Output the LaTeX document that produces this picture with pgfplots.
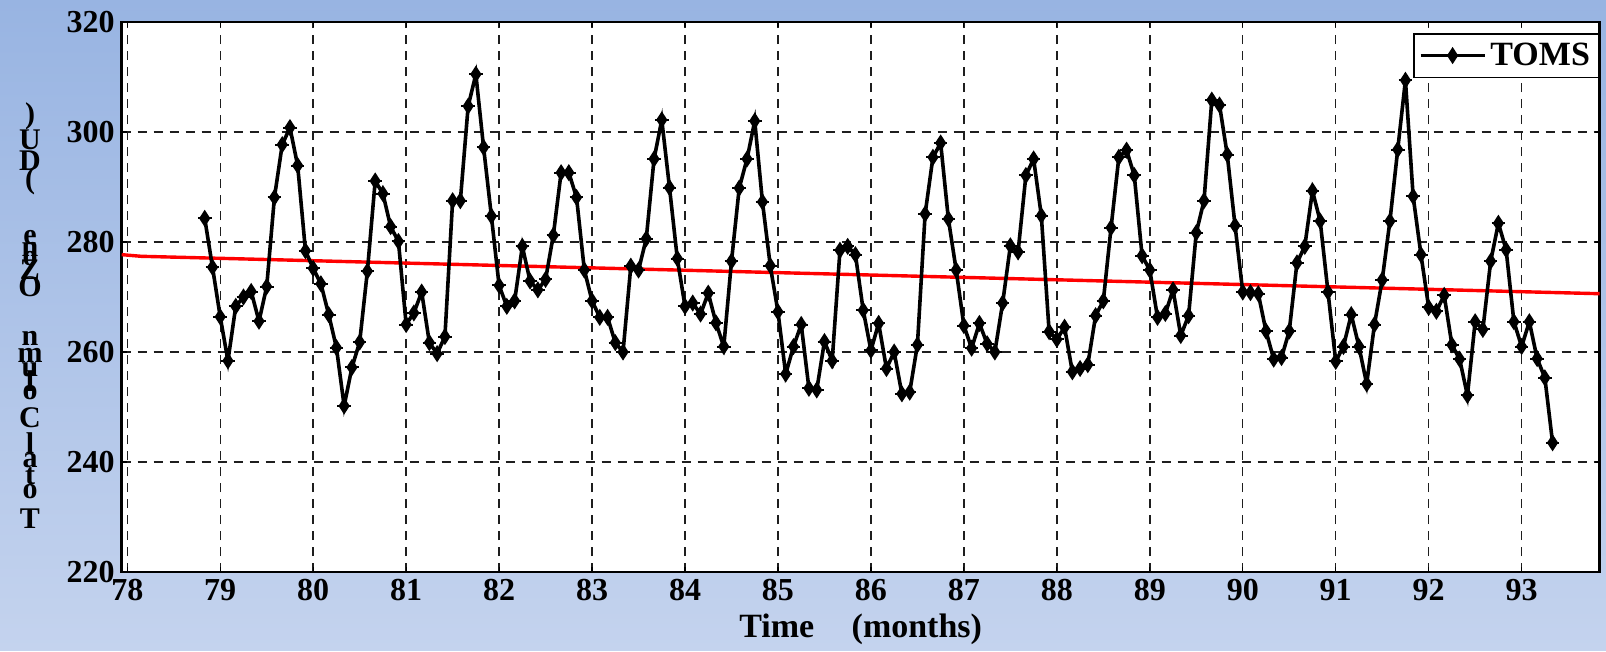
\documentclass[border=0pt]{standalone}
\usepackage{pgfplots}
\pgfplotsset{compat=1.18}
\usepackage{pgfplotstable}
\usepackage{fontspec}
\setmainfont{Liberation Serif}

\definecolor{bgtop}{RGB}{152,180,226}
\definecolor{bgbot}{RGB}{196,211,238}
\definecolor{gridc}{RGB}{30,30,30}

% filled diamond with a horizontal bar, like the marker in the original
\pgfdeclareplotmark{toms}{%
  \pgfpathmoveto{\pgfqpoint{0pt}{\pgfplotmarksize}}%
  \pgfpathlineto{\pgfqpoint{0.65\pgfplotmarksize}{0pt}}%
  \pgfpathlineto{\pgfqpoint{0pt}{-\pgfplotmarksize}}%
  \pgfpathlineto{\pgfqpoint{-0.65\pgfplotmarksize}{0pt}}%
  \pgfpathclose
  \pgfusepathqfillstroke
  \pgfpathmoveto{\pgfqpoint{-\pgfplotmarksize}{0pt}}%
  \pgfpathlineto{\pgfqpoint{\pgfplotmarksize}{0pt}}%
  \pgfusepathqstroke
}

% monthly total column ozone, Nov 1978 - May 1993
\pgfplotstableread{
x y
78.833 284.3
78.917 275.4
79.000 266.4
79.083 258.4
79.167 268.3
79.250 270.0
79.333 271.0
79.417 265.6
79.500 271.9
79.583 288.1
79.667 297.7
79.750 300.8
79.833 293.9
79.917 278.4
80.000 275.2
80.083 272.4
80.167 266.8
80.250 260.8
80.333 250.2
80.417 257.2
80.500 261.8
80.583 274.7
80.667 291.1
80.750 288.8
80.833 282.8
80.917 280.1
81.000 265.0
81.083 267.1
81.167 270.9
81.250 261.7
81.333 259.7
81.417 262.8
81.500 287.5
81.583 287.5
81.667 304.7
81.750 310.5
81.833 297.2
81.917 284.7
82.000 272.1
82.083 268.3
82.167 269.3
82.250 279.2
82.333 272.9
82.417 271.3
82.500 273.2
82.583 281.2
82.667 292.6
82.750 292.6
82.833 288.1
82.917 274.9
83.000 269.3
83.083 266.3
83.167 266.3
83.250 261.7
83.333 260.0
83.417 275.6
83.500 274.9
83.583 280.6
83.667 295.1
83.750 302.2
83.833 289.9
83.917 277.0
84.000 268.3
84.083 268.9
84.167 266.9
84.250 270.7
84.333 265.3
84.417 261.0
84.500 276.5
84.583 289.8
84.667 295.1
84.750 302.0
84.833 287.3
84.917 275.7
85.000 267.3
85.083 256.0
85.167 261.0
85.250 265.0
85.333 253.4
85.417 253.1
85.500 261.9
85.583 258.4
85.667 278.5
85.750 279.2
85.833 277.7
85.917 267.6
86.000 260.3
86.083 265.2
86.167 257.0
86.250 260.0
86.333 252.4
86.417 252.7
86.500 261.3
86.583 285.1
86.667 295.4
86.750 298.0
86.833 284.2
86.917 274.9
87.000 264.8
87.083 260.7
87.167 265.2
87.250 261.5
87.333 260.0
87.417 268.9
87.500 279.3
87.583 278.2
87.667 292.1
87.750 295.1
87.833 284.8
87.917 263.7
88.000 262.3
88.083 264.5
88.167 256.4
88.250 257.0
88.333 257.7
88.417 266.6
88.500 269.3
88.583 282.6
88.667 295.4
88.750 296.7
88.833 292.1
88.917 277.5
89.000 274.9
89.083 266.3
89.167 267.0
89.250 271.3
89.333 263.0
89.417 266.6
89.500 281.7
89.583 287.5
89.667 305.8
89.750 304.9
89.833 295.9
89.917 283.0
90.000 270.9
90.083 270.8
90.167 270.6
90.250 263.8
90.333 258.7
90.417 259.0
90.500 263.8
90.583 276.2
90.667 279.2
90.750 289.3
90.833 283.8
90.917 270.9
91.000 258.3
91.083 261.0
91.167 266.8
91.250 261.0
91.333 254.2
91.417 265.0
91.500 273.1
91.583 283.8
91.667 296.8
91.750 309.4
91.833 288.3
91.917 277.7
92.000 268.1
92.083 267.4
92.167 270.3
92.250 261.3
92.333 258.7
92.417 252.1
92.500 265.5
92.583 264.1
92.667 276.5
92.750 283.4
92.833 278.6
92.917 265.5
93.000 261.0
93.083 265.5
93.167 258.8
93.250 255.3
93.333 243.5
}\tomsdata

\begin{document}
\begin{tikzpicture}
\shade[top color=bgtop, bottom color=bgbot] (0pt,0pt) rectangle (803pt,325pt);

% y label: letters stacked one above the other, as in the original
\foreach \c/\yy in {{)}/116,{U}/140,{D}/161,{(}/181,
  {e}/238,{n}/249,{o}/259,{Z}/270,{O}/287,
  {n}/338,{m}/355,{u}/370,{l}/381,{o}/393,{C}/418,
  {l}/443,{a}/461,{t}/476,{o}/492,{T}/519}{
  \node[font=\bfseries\fontsize{15}{15}\selectfont, inner sep=0pt]
    at (15pt,{(650-\yy)/2*1pt}) {\c};
}

\begin{axis}[
  at={(60.85pt,39pt)}, anchor=south west,
  scale only axis, width=739pt, height=275pt,
  xmin=77.94, xmax=93.84, ymin=220, ymax=320,
  xtick={78,79,...,93}, ytick={220,240,...,320},
  axis background/.style={fill=white},
  axis line style={line width=1.3pt},
  grid=major,
  major grid style={gridc, line width=0.7pt, dash pattern=on 4.5pt off 3.5pt},
  tick align=inside, major tick length=2.5pt,
  tick style={black, line width=0.6pt},
  ticklabel style={font=\bfseries\fontsize{16}{16}\selectfont},
  /pgf/number format/assume math mode=true,
  /pgf/number format/1000 sep={},
  xlabel={Time\hspace{1.1em}(months)},
  xlabel style={font=\bfseries\fontsize{17}{17}\selectfont},
  legend style={at={(1,1)}, anchor=north east, yshift=-5.5pt,
    draw=black, line width=0.8pt, fill=white,
    font=\bfseries\fontsize{17}{17}\selectfont, inner sep=2.5pt},
  legend image code/.code={%
    \draw[mark repeat=2, mark phase=2] plot coordinates {(0pt,0pt) (16pt,0pt) (32pt,0pt)};},
]
\addplot[red, line width=1.7pt, forget plot] coordinates {
  (77.94,277.7) (78.15,277.4) (93.84,270.6)
};
\addplot[black, line width=1.8pt, mark=toms, mark size=3.4pt,
  mark options={solid, line width=1pt, fill=black}] table {\tomsdata};
\addlegendentry{TOMS}
\end{axis}
\end{tikzpicture}
\end{document}
